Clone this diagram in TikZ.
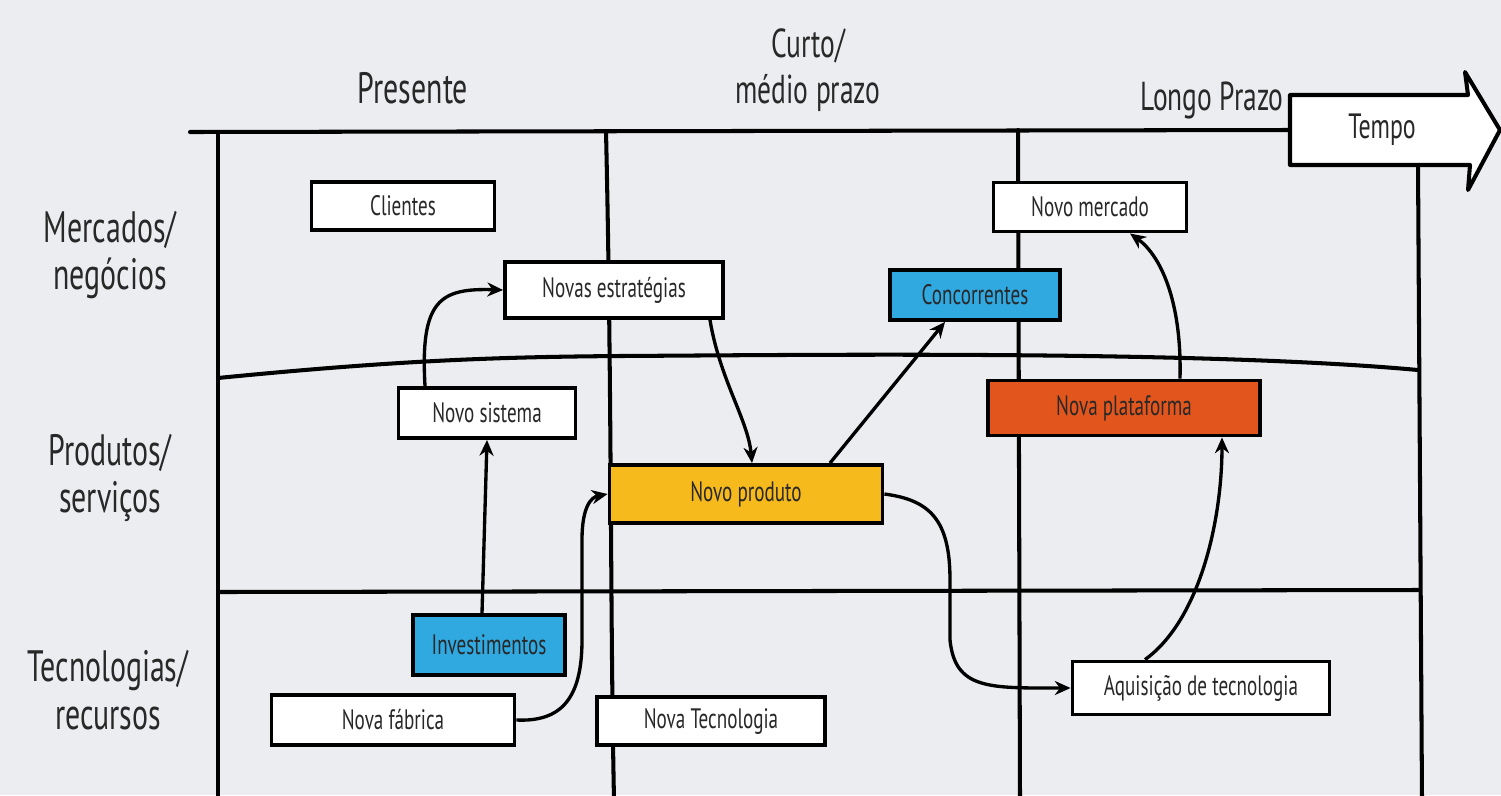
\documentclass[tikz,border=0pt]{standalone}
\usepackage{fontspec}
\setmainfont[FakeStretch=0.68]{PT Sans}
\usetikzlibrary{arrows.meta,positioning,calc}
\definecolor{roadgray}  {RGB}{236,237,240}
\definecolor{roadblue}  {RGB}{48,168,224}
\definecolor{roadyellow}{RGB}{246,186,28}
\definecolor{roadorange}{RGB}{226,86,30}
\definecolor{roadtext}  {RGB}{40,40,40}

\begin{document}
\begin{tikzpicture}[
    x=0.02cm,y=-0.02cm,
    >=Stealth,
    grid/.style ={line width=2.3pt,line cap=round},
    box/.style  ={draw,fill=white,line width=2.2pt,inner sep=2pt,
                  text=roadtext,font=\fontsize{16}{18}\selectfont},
    bbox/.style ={box,fill=roadblue},
    ybox/.style ={box,fill=roadyellow},
    obox/.style ={box,fill=roadorange},
    head/.style ={font=\fontsize{25}{27}\selectfont,align=center,text=roadtext},
    arr/.style  ={->,line width=1.9pt,
                  arrows={-Stealth[length=9pt,width=8pt]}},
  ]
  \fill[roadgray] (0,0) rectangle (1501,795);
  \useasboundingbox (0,0) rectangle (1501,795);

  %% Headers
  \node[head] (present) at (413,88) {Presente};
  \node[head,font=\fontsize{23}{26}\selectfont] (short) at (808,70)
    {Curto/\\médio prazo};
  \node[head,font=\fontsize{23}{26}\selectfont] (long) at (1212,100)
    {Longo Prazo};

  %% Row labels
  \node[head] (markets)  at (110,255) {Mercados/\\negócios};
  \node[head] (products) at (110,478) {Produtos/\\serviços};
  \node[head] (techs)    at (108,690) {Tecnologias/\\recursos};

  %% Time axis
  \coordinate (axis0) at (190,132);
  \coordinate (tempoL) at (1290,130);
  \draw[grid] (axis0) -- (tempoL);
  \draw[grid,fill=white,line join=round]
    (1290,95) -- (1468,95) -- (1465,72) -- (1500,130) -- (1468,190)
    -- (1470,165) -- (1290,165) -- cycle;
  \node[head,font=\fontsize{20}{22}\selectfont] (tempo) at (1382,130) {Tempo};

  %% Grid
  \draw[grid] (218,132) -- (218,800);
  \draw[grid] (606,131) .. controls (612,400) and (610,600) .. (614,800);
  \draw[grid] (1018,130) -- (1020,800);
  \draw[grid] (1418,165) -- (1422,800);
  \draw[grid] (218,378) .. controls (400,360) and (500,357) .. (620,356)
    .. controls (800,355) and (1200,350) .. (1418,370);
  \draw[grid] (218,592) -- (1418,590);

  %% Mercados/negocios
  \node[box,minimum width=3.66cm,minimum height=0.96cm]
    (clients) at (403,206) {Clientes};
  \node[box,minimum width=4.36cm,minimum height=1.12cm]
    (strat) at (614,290) {Novas estratégias};
  \node[bbox,minimum width=3.4cm,minimum height=1.0cm]
    (rivals) at (975,295) {Concorrentes};
  \node[box,minimum width=3.86cm,minimum height=0.98cm]
    (market) at (1090,207) {Novo mercado};

  %% Produtos/servicos
  \node[box,minimum width=3.54cm,minimum height=1.0cm]
    (system) at (487,413) {Novo sistema};
  \node[obox,minimum width=5.44cm,minimum height=1.1cm]
    (platform) at (1124,408) {Nova plataforma};
  \node[ybox,minimum width=5.46cm,minimum height=1.16cm]
    (product) at (746,494) {Novo produto};

  %% Tecnologias/recursos
  \node[bbox,minimum width=3.04cm,minimum height=1.2cm]
    (invest) at (489,645) {Investimentos};
  \node[box,minimum width=4.86cm,minimum height=1.0cm]
    (factory) at (393,720) {Nova fábrica};
  \node[box,minimum width=4.56cm,minimum height=0.96cm]
    (tech) at (711,721) {Nova Tecnologia};
  \node[box,minimum width=5.14cm,minimum height=1.06cm]
    (acquis) at (1201,688) {Aquisição de tecnologia};

  %% Connectors
  \draw[arr] ([xshift=-1.24cm]system.north) .. controls (420,300) and (440,288)
    .. (strat.west);
  \draw[arr] ([xshift=1.92cm]strat.south) .. controls (720,380) and (748,420)
    .. ([xshift=0.12cm]product.north);
  \draw[arr] ([xshift=1.68cm]product.north) -- ([xshift=-0.6cm]rivals.south);
  \draw[arr] ([xshift=1.12cm]platform.north) .. controls (1182,300) and (1160,255)
    .. ([xshift=0.8cm]market.south);
  \draw[arr] ([xshift=-0.14cm]invest.north) -- (system.south);
  \draw[arr] (factory.east) .. controls (560,722) and (582,700) .. (582,640)
    -- (582,540) .. controls (582,505) and (592,497) .. (product.west);
  \draw[arr] (product.east) .. controls (930,500) and (950,520) .. (950,580)
    -- (950,640) .. controls (955,690) and (990,688) .. (acquis.west);
  \draw[arr] ([xshift=-1.12cm]acquis.north) .. controls (1200,620) and (1222,520)
    .. ([xshift=1.96cm]platform.south);
\end{tikzpicture}
\end{document}
